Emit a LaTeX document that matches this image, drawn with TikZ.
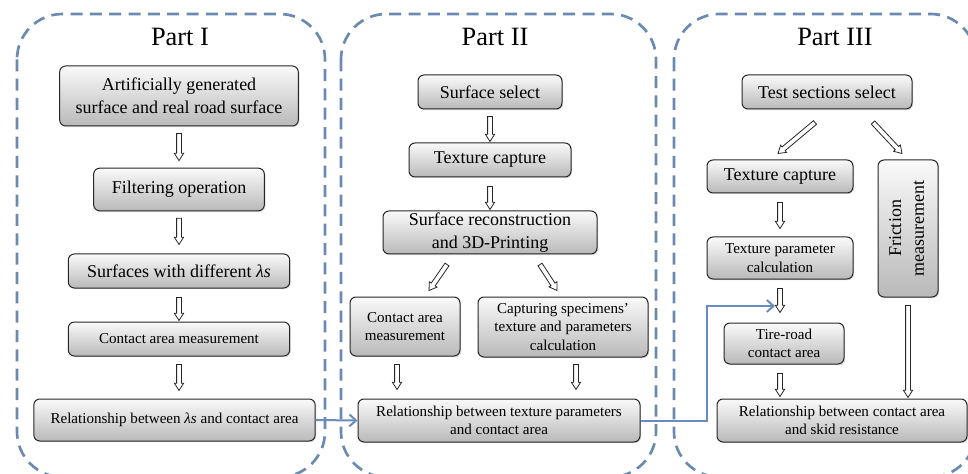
\documentclass[tikz,border=0pt]{standalone}
\usepackage{fontspec}
\setmainfont{Liberation Serif}
\usepackage{graphicx}
\usetikzlibrary{calc,arrows.meta,shadows}

\definecolor{partblue}{RGB}{106,138,178}
\definecolor{linkblue}{RGB}{105,140,190}

\tikzset{
  part/.style={draw=partblue, line width=2pt, dash pattern=on 9pt off 5.5pt, rounded corners=34pt},
  parttitle/.style={font=\fontsize{19.8}{24}\selectfont},
  stepbox/.style={draw=black!85, line width=0.75pt, rounded corners=4.5pt,
    top color=gray!4, bottom color=gray!55, align=center, inner sep=1pt,
    drop shadow={opacity=0.25, shadow xshift=0.9pt, shadow yshift=-0.9pt}},
  bigfont/.style={font=\fontsize{13.5}{17}\selectfont},
  smallfont/.style={font=\fontsize{11.3}{13.9}\selectfont},
  hollow/.style={draw=black!85, fill=white, line width=0.6pt,
    to path={let \p1=(\tikztostart), \p2=(\tikztotarget),
      \n1={atan2(\y2-\y1,\x2-\x1)}, \n2={veclen(\x2-\x1,\y2-\y1)} in
      [shift={(\p1)}, rotate=\n1]
      (0pt,1.8pt) -- ({\n2-5.5pt},1.8pt) -- ({\n2-5.5pt},3.5pt) -- (\n2,0pt)
      -- ({\n2-5.5pt},-3.5pt) -- ({\n2-5.5pt},-1.8pt) -- (0pt,-1.8pt) -- cycle}},
  link/.style={draw=linkblue, line width=1.5pt, -{Straight Barb[length=5pt,width=9pt]}},
}

\begin{document}
\begin{tikzpicture}[x=0.75pt, y=-0.75pt]
  \useasboundingbox (0,0) rectangle (968,474);

  % dashed frames
  \draw[part] (17,14) rectangle (325,477);
  \draw[part] (341,14) rectangle (656,477);
  \draw[part] (674,14) rectangle (976,477);

  \node[parttitle] (t1) at (180,37) {Part I};
  \node[parttitle] (t2) at (495,37) {Part II};
  \node[parttitle] (t3) at (835,37) {Part III};

  % part I
  \node[stepbox, bigfont, minimum width=179pt, minimum height=45pt] (A1) at (179,96) {Artificially generated\\surface and real road surface};
  \node[stepbox, bigfont, minimum width=128pt, minimum height=32pt] (A2) at (179,189.5) {Filtering operation};
  \node[stepbox, bigfont, minimum width=166pt, minimum height=25.5pt] (A3) at (179,271) {Surfaces with different \textit{λs}};
  \node[stepbox, smallfont, minimum width=166pt, minimum height=25.5pt] (A4) at (179,339) {Contact area measurement};
  \node[stepbox, smallfont, minimum width=211pt, minimum height=31.5pt] (A5) at (174.5,420) {Relationship between \textit{λs} and contact area};

  % part II
  \node[stepbox, bigfont, minimum width=108pt, minimum height=25.5pt] (B1) at (490,92) {Surface select};
  \node[stepbox, bigfont, minimum width=121.5pt, minimum height=25.5pt] (B2) at (490,160) {Texture capture};
  \node[stepbox, bigfont, minimum width=160.5pt, minimum height=32.25pt] (B3) at (490,232.5) {Surface reconstruction\\and 3D-Printing};
  \node[stepbox, smallfont, minimum width=82.5pt, minimum height=44.25pt] (B4) at (405,326.5) {Contact area\\measurement};
  \node[stepbox, smallfont, minimum width=127.5pt, minimum height=45pt] (B5) at (563,327) {Capturing specimens’\\texture and  parameters\\calculation};
  \node[stepbox, smallfont, minimum width=211.5pt, minimum height=32.25pt] (B6) at (499,420.5) {Relationship between texture parameters\\and contact area};

  % part III
  \node[stepbox, bigfont, minimum width=127.5pt, minimum height=25.5pt] (C1) at (827,92) {Test sections select};
  \node[stepbox, bigfont, minimum width=109.5pt, minimum height=24.75pt] (C2) at (780,176.5) {Texture capture};
  \node[stepbox, smallfont, minimum width=109.5pt, minimum height=31.5pt] (C3) at (780,258) {Texture parameter\\calculation};
  \node[stepbox, smallfont, minimum width=90pt, minimum height=30.75pt] (C4) at (784,343.5) {Tire-road\\contact area};
  \node[stepbox, smallfont, minimum width=187.5pt, minimum height=32.25pt] (C5) at (842,420.5) {Relationship between contact area\\and skid resistance};
  \node[stepbox, bigfont, minimum width=45pt, minimum height=102.75pt] (C6) at (908,228.5) {\rotatebox{90}{\begin{tabular}{@{}c@{}}Friction\\measurement\end{tabular}}};

  % hollow arrows
  \draw[hollow] ($(A1.south)+(0,7)$) to ($(A2.north)+(0,-7)$);
  \draw[hollow] ($(A2.south)+(0,7)$) to ($(A3.north)+(0,-9)$);
  \draw[hollow] ($(A3.south)+(0,9)$) to ($(A4.north)+(0,-1)$);
  \draw[hollow] ($(A4.south)+(0,8)$) to ($(A4.south |- A5.north)+(0,-8)$);

  \draw[hollow] ($(B1.south)+(0,7)$) to ($(B2.north)+(0,-1)$);
  \draw[hollow] ($(B2.south)+(0,9)$) to ($(B3.north)+(0,-1)$);
  \draw[hollow] ($(B3.south)+(-43,10)$) to ($(B4.north)+(24,-6)$);
  \draw[hollow] ($(B3.south)+(50,10)$) to ($(B5.north)+(-6,-6)$);
  \draw[hollow] ($(B4.south)+(-8,8)$) to ($(B4.south |- B6.north)+(-8,-9)$);
  \draw[hollow] ($(B5.south)+(13,7)$) to ($(B5.south |- B6.north)+(13,-9)$);

  \draw[hollow] ($(C1.south)+(-12,13)$) to ($(C2.north)+(-2,-6)$);
  \draw[hollow] ($(C1.south)+(46,13)$) to ($(C6.north)+(-6,-6)$);
  \draw[hollow] ($(C2.south)+(0,9)$) to ($(C3.north)+(0,-8)$);
  \draw[hollow] ($(C3.south)+(0,9)$) to ($(C3.south |- C4.north)+(0,-10)$);
  \draw[hollow] ($(C3.south |- C4.south)+(0,9)$) to ($(C3.south |- C5.north)+(0,-2)$);
  \draw[hollow] ($(C6.south)+(0,8)$) to ($(C6.south |- C5.north)+(0,-1)$);

  % blue links between parts
  \coordinate (feed) at (775,306);
  \draw[link] (A5.east) -- (B6.west);
  \draw[link] (B6.east) -- (B6.east -| C3.west) |- (feed);
\end{tikzpicture}
\end{document}
